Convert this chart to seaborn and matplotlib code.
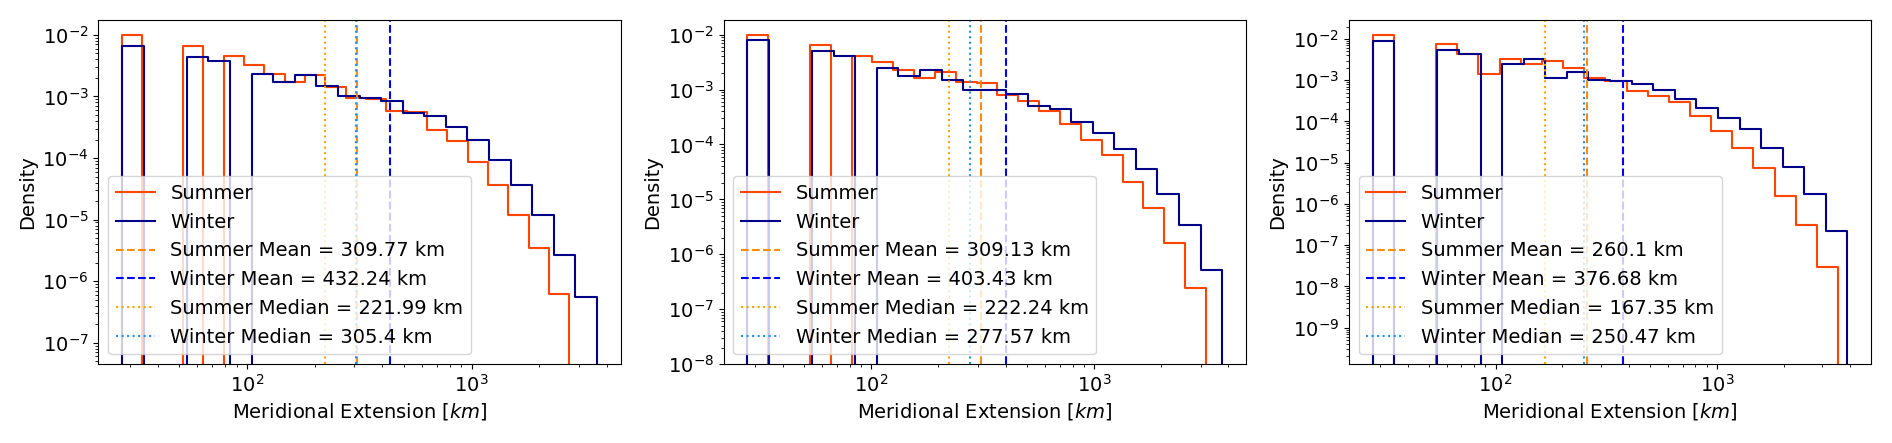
import numpy as np
import pandas as pd
import matplotlib
matplotlib.use("Agg")
import matplotlib.pyplot as plt
import seaborn as sns

# -------------------- Data --------------------
n_bins = 22
ext_min = 27.8
summer_max = [2724, 3170, 3530]
winter_max = [3610, 3750, 3890]

summer_density = [
    [1.0e-2, 0, 0, 6.7e-3, 0, 4.5e-3, 3.3e-3, 2.35e-3, 1.7e-3, 2.2e-3, 1.4e-3,
     9.3e-4, 9.1e-4, 5.9e-4, 5.5e-4, 2.9e-4, 1.9e-4, 8.5e-5, 3.6e-5, 1.2e-5, 3.4e-6, 6.2e-7],
    [1.0e-2, 0, 0, 6.4e-3, 0, 4.15e-3, 3.2e-3, 2.25e-3, 1.6e-3, 2.1e-3, 1.4e-3,
     1.3e-3, 8.1e-4, 6.2e-4, 4.1e-4, 2.4e-4, 1.23e-4, 6.3e-5, 2.1e-5, 6.9e-6, 1.6e-6, 2.4e-7],
    [1.28e-2, 0, 0, 7.6e-3, 4.3e-3, 1.42e-3, 3.3e-3, 2.45e-3, 2.95e-3, 1.96e-3, 1.12e-3,
     9.8e-4, 5.6e-4, 4.2e-4, 2.9e-4, 1.35e-4, 6.0e-5, 2.3e-5, 7.5e-6, 1.58e-6, 3.0e-7, 2.9e-8],
]
winter_density = [
    [6.5e-3, 0, 0, 4.35e-3, 3.8e-3, 0, 2.3e-3, 1.7e-3, 2.25e-3, 1.5e-3, 1.0e-3,
     9.4e-4, 8.3e-4, 5.4e-4, 4.9e-4, 3.2e-4, 2.0e-4, 9.3e-5, 3.6e-5, 1.2e-5, 2.7e-6, 5.5e-7],
    [8.1e-3, 0, 0, 5.1e-3, 4.1e-3, 0, 2.5e-3, 1.8e-3, 2.3e-3, 1.5e-3, 1.0e-3,
     1.0e-3, 8.3e-4, 5.0e-4, 4.4e-4, 2.6e-4, 1.6e-4, 8.3e-5, 3.5e-5, 1.26e-5, 3.4e-6, 5.1e-7],
    [8.8e-3, 0, 0, 5.3e-3, 4.4e-3, 0, 2.45e-3, 3.3e-3, 1.12e-3, 1.54e-3, 1.02e-3,
     9.8e-4, 8.0e-4, 5.9e-4, 3.6e-4, 2.1e-4, 1.2e-4, 6.5e-5, 2.3e-5, 7.9e-6, 1.7e-6, 2.2e-7],
]

summer_mean = ["309.77", "309.13", "260.1"]
winter_mean = ["432.24", "403.43", "376.68"]
summer_median = ["221.99", "222.24", "167.35"]
winter_median = ["305.4", "277.57", "250.47"]

y_limits = [(4.5e-8, 1.75e-2), (1e-8, 1.85e-2), (1.3e-10, 2.9e-2)]

# -------------------- Plot --------------------
plt.rcParams["font.size"] = 14

fig, axes = plt.subplots(1, 3, figsize=(18.92, 4.43), dpi=100)
fig.subplots_adjust(left=0.052, right=0.989, top=0.955, bottom=0.178, wspace=0.197)

FLOOR = 1e-12  # empty bins: drawn as a drop below the axis on the log scale


def season_hist(ax, dens, vmax, color, label):
    log_edges = np.linspace(np.log10(ext_min), np.log10(vmax), n_bins + 1)
    step = log_edges[1] - log_edges[0]
    # pad one empty bin on each side so the outline drops at both ends
    log_edges = np.concatenate([[log_edges[0] - step], log_edges, [log_edges[-1] + step]])
    centers = 10 ** ((log_edges[:-1] + log_edges[1:]) / 2)
    weights = [max(d, FLOOR) for d in [0.0] + list(dens) + [0.0]]
    df = pd.DataFrame({"x": centers, "w": weights})
    sns.histplot(data=df, x="x", weights="w", bins=list(log_edges), stat="count",
                 element="step", fill=False, log_scale=(True, True),
                 color=color, linewidth=1.5, label=label, ax=ax)


for i, ax in enumerate(axes):
    season_hist(ax, summer_density[i], summer_max[i], "orangered", "Summer")
    season_hist(ax, winter_density[i], winter_max[i], "darkblue", "Winter")

    ax.axvline(float(summer_mean[i]), color="darkorange", ls="--", lw=1.5,
               label=f"Summer Mean = {summer_mean[i]} km")
    ax.axvline(float(winter_mean[i]), color="blue", ls="--", lw=1.5,
               label=f"Winter Mean = {winter_mean[i]} km")
    ax.axvline(float(summer_median[i]), color="orange", ls=":", lw=1.5,
               label=f"Summer Median = {summer_median[i]} km")
    ax.axvline(float(winter_median[i]), color="dodgerblue", ls=":", lw=1.5,
               label=f"Winter Median = {winter_median[i]} km")

    lo = np.log10(ext_min)
    hi = np.log10(max(summer_max[i], winter_max[i]))
    pad = 0.05 * (hi - lo)
    ax.set_xlim(10 ** (lo - pad), 10 ** (hi + pad))
    ax.set_ylim(*y_limits[i])

    ax.set_xlabel("Meridional Extension [$km$]")
    ax.set_ylabel("Density")
    ax.legend(loc="lower left")

fig.savefig("out.png", dpi=100)
